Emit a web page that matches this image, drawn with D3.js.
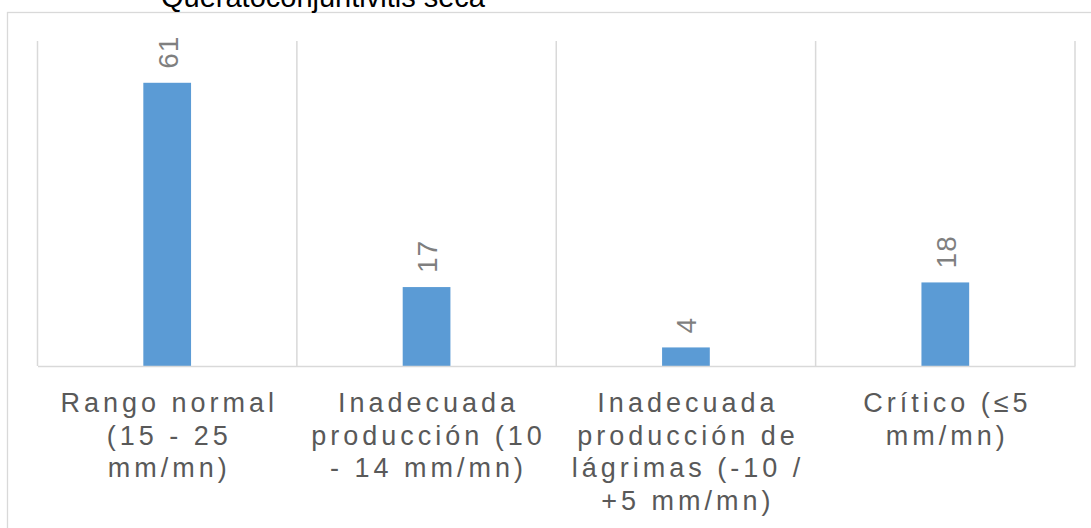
<!DOCTYPE html>
<html lang="es">
<head>
<meta charset="utf-8">
<script src="https://cdn.jsdelivr.net/npm/d3@7/dist/d3.min.js"></script>
<style>
  html, body { margin: 0; padding: 0; background: #ffffff; overflow: hidden; }
  svg { display: block; font-family: "Liberation Sans", Arial, sans-serif; }
</style>
</head>
<body>
<svg id="chart" width="1091" height="528"></svg>
<script>
// Chart data
const titleText = "Queratoconjuntivitis seca";
const categories = ["normal", "inadecuada10", "inadecuadaLag", "critico"];
const categoryLines = [
  ["Rango normal", "(15 - 25", "mm/mn)"],
  ["Inadecuada", "producción (10", "- 14 mm/mn)"],
  ["Inadecuada", "producción de", "lágrimas (-10 /", "+5 mm/mn)"],
  ["Crítico (≤5", "mm/mn)"]
];
const values = [61, 17, 4, 18];
const yMax = 70;

const svg = d3.select("#chart");

// Outer chart frame (runs past the visible page on the right and bottom)
svg.append("rect")
  .attr("x", 7.5).attr("y", 12.5)
  .attr("width", 1200).attr("height", 700)
  .attr("fill", "#ffffff")
  .attr("stroke", "#d9d9d9").attr("stroke-width", 1.3);

// Title, partly clipped at the top edge
svg.append("text")
  .attr("x", 323).attr("y", 7)
  .attr("text-anchor", "middle")
  .attr("font-size", 29)
  .attr("fill", "#000000")
  .text(titleText);

const plot = { left: 37.5, right: 1075, top: 41, bottom: 366 };

const x = d3.scaleBand()
  .domain(categories)
  .range([plot.left, plot.right])
  .paddingInner(0).paddingOuter(0);

const y = d3.scaleLinear()
  .domain([0, yMax])
  .range([plot.bottom, plot.top]);

// Vertical separators between categories
const edges = categories.map(c => x(c)).concat([x(categories[categories.length - 1]) + x.bandwidth()]);
svg.append("g").selectAll("line")
  .data(edges)
  .join("line")
  .attr("x1", d => d).attr("x2", d => d)
  .attr("y1", plot.top).attr("y2", plot.bottom)
  .attr("stroke", "#d9d9d9").attr("stroke-width", 1.5);

// Bars
const barW = x.bandwidth() * 0.184;
svg.append("g").selectAll("rect")
  .data(values)
  .join("rect")
  .attr("x", (d, i) => x(categories[i]) + x.bandwidth() / 2 - barW / 2)
  .attr("y", d => y(d))
  .attr("width", barW)
  .attr("height", d => y(0) - y(d))
  .attr("fill", "#5b9bd5");

// Category axis (baseline only; labels are wrapped below)
const xAxis = svg.append("g")
  .attr("transform", `translate(0,${plot.bottom})`)
  .call(d3.axisBottom(x).tickSize(0).tickFormat(""));
xAxis.select(".domain").attr("stroke", "#d9d9d9").attr("stroke-width", 1.5);

// Wrapped category labels
const spacing = 4;
const labelG = svg.append("g");
categories.forEach((c, i) => {
  const t = labelG.append("text")
    .attr("text-anchor", "middle")
    .attr("font-size", 27)
    .attr("letter-spacing", spacing)
    .attr("fill", "#595959");
  categoryLines[i].forEach((line, k) => {
    t.append("tspan")
      .attr("x", x(c) + x.bandwidth() / 2 + spacing / 2)
      .attr("y", 412 + k * 32.5)
      .text(line);
  });
});

// Rotated value labels above each bar
svg.append("g").selectAll("text")
  .data(values)
  .join("text")
  .attr("transform", (d, i) => `translate(${x(categories[i]) + x.bandwidth() / 2 + 1},${y(d) - 14}) rotate(-90)`)
  .attr("text-anchor", "start")
  .attr("dominant-baseline", "central")
  .attr("font-size", 28)
  .attr("letter-spacing", 1)
  .attr("fill", "#7f7f7f")
  .text(d => d);
</script>
</body>
</html>
